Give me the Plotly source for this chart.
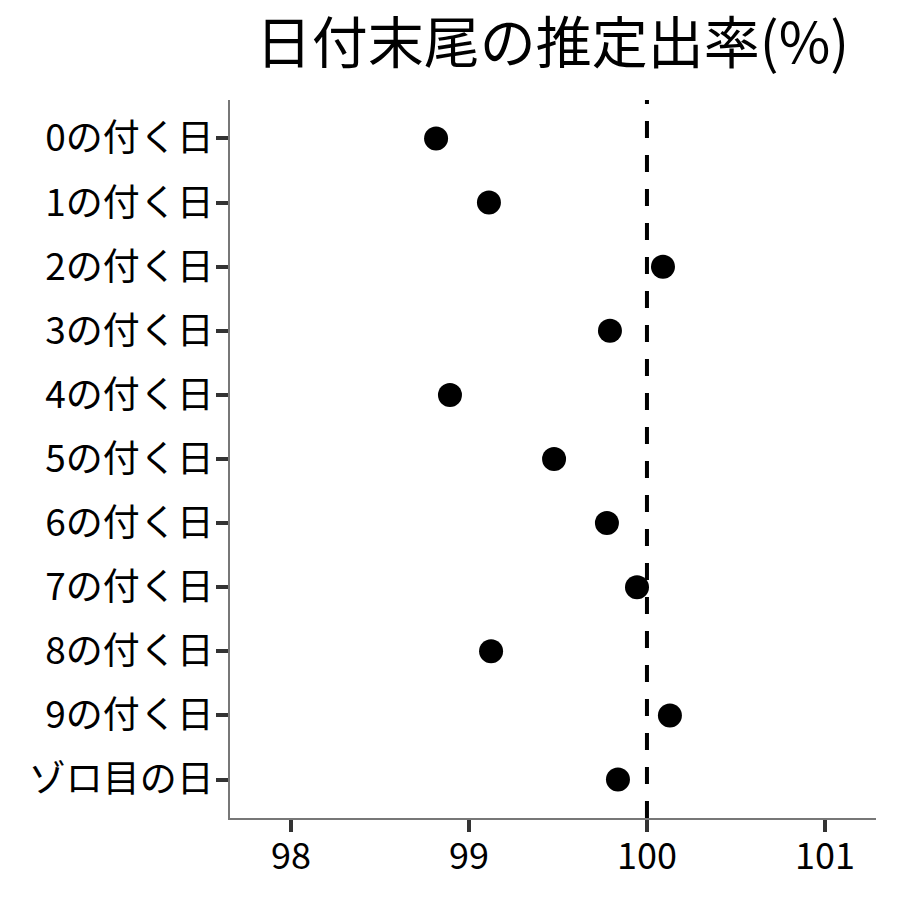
import plotly.graph_objects as go

categories = ["0の付く日", "1の付く日", "2の付く日", "3の付く日", "4の付く日",
              "5の付く日", "6の付く日", "7の付く日", "8の付く日", "9の付く日", "ゾロ目の日"]
values = [98.815, 99.112, 100.09, 99.792, 98.893, 99.478, 99.775, 99.944, 99.124, 100.129, 99.837]
ref_value = 100
x_ticks = [98, 99, 100, 101]
title_text = "日付末尾の推定出率(%)"

FONT = "Noto Sans CJK JP"

fig = go.Figure()
fig.add_trace(go.Scatter(
    x=values, y=categories, mode="markers",
    marker=dict(color="black", size=24),
    showlegend=False,
))

fig.add_shape(type="line", x0=ref_value, x1=ref_value, y0=0, y1=1,
              xref="x", yref="paper",
              line=dict(color="black", width=4, dash="17px,17px"))

fig.update_layout(
    width=892, height=892,
    margin=dict(l=222, r=24, t=92, b=82),
    plot_bgcolor="white", paper_bgcolor="white",
    font=dict(family=FONT, color="black"),
    title=dict(text=title_text, x=0.6104, xanchor="center", y=0.96, yanchor="middle",
               font=dict(size=56, family=FONT, color="black")),
)
fig.update_xaxes(
    range=[97.657, 101.287], tickvals=x_ticks, showgrid=False, zeroline=False,
    showline=True, linecolor="#777", linewidth=1.5,
    ticks="outside", ticklen=12, tickwidth=4, tickcolor="#333",
    ticklabelstandoff=-6,
    tickfont=dict(size=36, family=FONT, color="black"),
)
fig.update_yaxes(
    type="category", categoryorder="array", categoryarray=categories,
    range=[len(categories) - 0.4, -0.6], showgrid=False, zeroline=False,
    showline=True, linecolor="#777", linewidth=1.5,
    ticks="outside", ticklen=12, tickwidth=4, tickcolor="#333",
    ticklabelstandoff=-5,
    tickfont=dict(size=37, family=FONT, color="black"),
)

fig.write_html("out.html")
